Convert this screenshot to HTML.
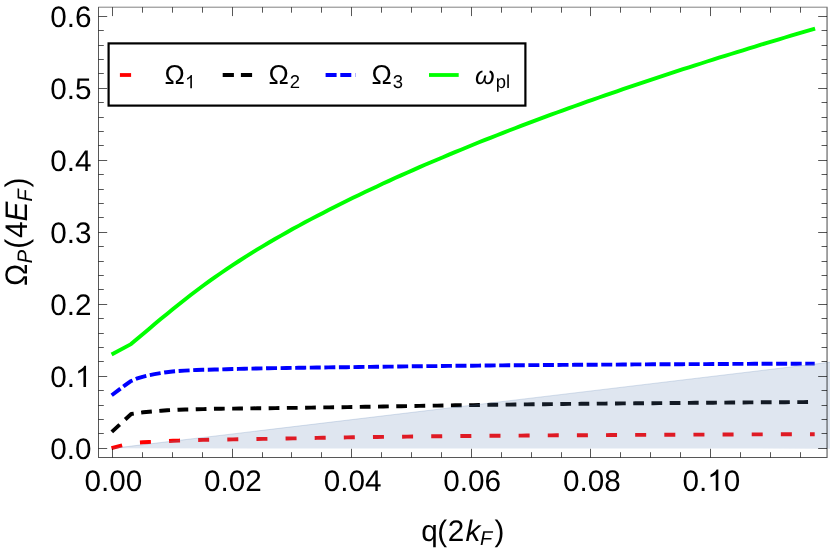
<!DOCTYPE html>
<html><head><meta charset="utf-8"><title>plot</title>
<style>
html,body{margin:0;padding:0;background:#fff;}
body{width:830px;height:549px;overflow:hidden;}
svg{display:block;will-change:transform;}
text{text-rendering:geometricPrecision;font-family:"Liberation Sans",sans-serif;fill:#000;}
.i{font-style:italic;}
</style></head><body>
<svg width="830" height="549" viewBox="0 0 830 549">
<rect x="0" y="0" width="830" height="549" fill="#ffffff"/>

<g fill="none" stroke-width="3.9" stroke-linejoin="round">
<path d="M111.5 448.2 L131.0 443.0 L137.0 442.7 L143.0 442.3 L149.0 442.0 L155.0 441.7 L161.0 441.4 L167.0 441.1 L173.0 440.8 L179.0 440.6 L185.0 440.4 L191.0 440.2 L197.0 440.0 L203.0 439.9 L209.0 439.8 L215.0 439.7 L221.0 439.6 L227.0 439.5 L233.0 439.4 L239.0 439.3 L245.0 439.2 L251.0 439.1 L257.0 439.0 L263.0 438.9 L269.0 438.8 L275.0 438.7 L281.0 438.6 L287.0 438.5 L293.0 438.4 L299.0 438.3 L305.0 438.2 L311.0 438.0 L317.0 437.9 L323.0 437.8 L329.0 437.7 L335.0 437.6 L341.0 437.5 L347.0 437.4 L353.0 437.3 L359.0 437.2 L365.0 437.1 L371.0 437.1 L377.0 437.0 L383.0 436.9 L389.0 436.8 L395.0 436.7 L401.0 436.7 L407.0 436.6 L413.0 436.5 L419.0 436.5 L425.0 436.4 L431.0 436.3 L437.0 436.3 L443.0 436.2 L449.0 436.1 L455.0 436.1 L461.0 436.0 L467.0 436.0 L473.0 435.9 L479.0 435.9 L485.0 435.8 L491.0 435.8 L497.0 435.7 L503.0 435.7 L509.0 435.6 L515.0 435.6 L521.0 435.6 L527.0 435.5 L533.0 435.5 L539.0 435.4 L545.0 435.4 L551.0 435.4 L557.0 435.3 L563.0 435.3 L569.0 435.3 L575.0 435.2 L581.0 435.2 L587.0 435.2 L593.0 435.1 L599.0 435.1 L605.0 435.1 L611.0 435.0 L617.0 435.0 L623.0 435.0 L629.0 434.9 L635.0 434.9 L641.0 434.9 L647.0 434.9 L653.0 434.8 L659.0 434.8 L665.0 434.8 L671.0 434.7 L677.0 434.7 L683.0 434.7 L689.0 434.7 L695.0 434.6 L701.0 434.6 L707.0 434.6 L713.0 434.6 L719.0 434.5 L725.0 434.5 L731.0 434.5 L737.0 434.5 L743.0 434.4 L749.0 434.4 L755.0 434.4 L761.0 434.4 L767.0 434.4 L773.0 434.3 L779.0 434.3 L785.0 434.3 L791.0 434.3 L797.0 434.3 L803.0 434.2 L809.0 434.2 L814.7 434.2" stroke="#ff0000" stroke-dasharray="11 18.137"/>
<path d="M111.8 431.9 L131.2 414.0 L137.2 413.1 L143.2 412.3 L149.2 411.7 L155.2 411.1 L161.2 410.7 L167.2 410.3 L173.2 410.0 L179.2 409.7 L185.2 409.5 L191.2 409.4 L197.2 409.2 L203.2 409.1 L209.2 408.9 L215.2 408.8 L221.2 408.7 L227.2 408.6 L233.2 408.6 L239.2 408.5 L245.2 408.5 L251.2 408.4 L257.2 408.3 L263.2 408.3 L269.2 408.2 L275.2 408.1 L281.2 408.0 L287.2 407.9 L293.2 407.9 L299.2 407.8 L305.2 407.7 L311.2 407.6 L317.2 407.5 L323.2 407.4 L329.2 407.4 L335.2 407.3 L341.2 407.2 L347.2 407.1 L353.2 407.0 L359.2 406.9 L365.2 406.8 L371.2 406.7 L377.2 406.6 L383.2 406.5 L389.2 406.4 L395.2 406.3 L401.2 406.2 L407.2 406.1 L413.2 406.0 L419.2 405.9 L425.2 405.8 L431.2 405.7 L437.2 405.6 L443.2 405.5 L449.2 405.4 L455.2 405.3 L461.2 405.2 L467.2 405.2 L473.2 405.1 L479.2 405.0 L485.2 404.9 L491.2 404.8 L497.2 404.7 L503.2 404.7 L509.2 404.6 L515.2 404.5 L521.2 404.4 L527.2 404.4 L533.2 404.3 L539.2 404.2 L545.2 404.2 L551.2 404.1 L557.2 404.1 L563.2 404.0 L569.2 403.9 L575.2 403.9 L581.2 403.8 L587.2 403.8 L593.2 403.7 L599.2 403.6 L605.2 403.6 L611.2 403.5 L617.2 403.5 L623.2 403.4 L629.2 403.4 L635.2 403.3 L641.2 403.3 L647.2 403.2 L653.2 403.2 L659.2 403.1 L665.2 403.1 L671.2 403.0 L677.2 403.0 L683.2 402.9 L689.2 402.9 L695.2 402.8 L701.2 402.8 L707.2 402.7 L713.2 402.7 L719.2 402.6 L725.2 402.6 L731.2 402.5 L737.2 402.5 L743.2 402.5 L749.2 402.4 L755.2 402.4 L761.2 402.3 L767.2 402.3 L773.2 402.3 L779.2 402.2 L785.2 402.2 L791.2 402.1 L797.2 402.1 L803.2 402.1 L809.2 402.0 L814.7 402.0" stroke="#000000" stroke-dasharray="10.75 7.481"/>
<path d="M111.7 395.2 L118.5 390.1 L124.5 385.6 L130.5 381.3 L136.5 378.7 L142.5 376.8 L148.5 375.3 L154.5 374.1 L160.5 373.1 L166.5 372.2 L172.5 371.5 L178.5 371.0 L184.5 370.6 L190.5 370.3 L196.5 370.0 L202.5 369.8 L208.5 369.7 L214.5 369.5 L220.5 369.4 L226.5 369.2 L232.5 369.0 L238.5 368.9 L244.5 368.7 L250.5 368.6 L256.5 368.5 L262.5 368.4 L268.5 368.2 L274.5 368.1 L280.5 368.1 L286.5 368.0 L292.5 367.9 L298.5 367.8 L304.5 367.7 L310.5 367.6 L316.5 367.5 L322.5 367.5 L328.5 367.4 L334.5 367.3 L340.5 367.2 L346.5 367.2 L352.5 367.1 L358.5 367.0 L364.5 366.9 L370.5 366.9 L376.5 366.8 L382.5 366.7 L388.5 366.6 L394.5 366.6 L400.5 366.5 L406.5 366.4 L412.5 366.3 L418.5 366.3 L424.5 366.2 L430.5 366.1 L436.5 366.1 L442.5 366.0 L448.5 365.9 L454.5 365.8 L460.5 365.8 L466.5 365.7 L472.5 365.7 L478.5 365.6 L484.5 365.5 L490.5 365.5 L496.5 365.4 L502.5 365.4 L508.5 365.3 L514.5 365.3 L520.5 365.2 L526.5 365.2 L532.5 365.1 L538.5 365.1 L544.5 365.0 L550.5 365.0 L556.5 365.0 L562.5 364.9 L568.5 364.9 L574.5 364.8 L580.5 364.8 L586.5 364.7 L592.5 364.7 L598.5 364.7 L604.5 364.6 L610.5 364.6 L616.5 364.6 L622.5 364.5 L628.5 364.5 L634.5 364.4 L640.5 364.4 L646.5 364.4 L652.5 364.3 L658.5 364.3 L664.5 364.3 L670.5 364.2 L676.5 364.2 L682.5 364.2 L688.5 364.1 L694.5 364.1 L700.5 364.1 L706.5 364.1 L712.5 364.0 L718.5 364.0 L724.5 364.0 L730.5 363.9 L736.5 363.9 L742.5 363.9 L748.5 363.9 L754.5 363.8 L760.5 363.8 L766.5 363.8 L772.5 363.8 L778.5 363.7 L784.5 363.7 L790.5 363.7 L796.5 363.7 L802.5 363.6 L808.5 363.6 L814.7 363.6" stroke="#0000ff" stroke-dasharray="11 3.575"/>
<path d="M111.6 354.5 L131.0 344.1 L137.0 339.0 L143.0 334.0 L149.0 328.9 L155.0 323.8 L161.0 318.8 L167.0 313.9 L173.0 309.0 L179.0 304.2 L185.0 299.5 L191.0 294.8 L197.0 290.3 L203.0 285.8 L209.0 281.4 L215.0 277.2 L221.0 273.0 L227.0 268.9 L233.0 264.9 L239.0 261.0 L245.0 257.1 L251.0 253.4 L257.0 249.7 L263.0 246.1 L269.0 242.5 L275.0 239.0 L281.0 235.6 L287.0 232.2 L293.0 228.8 L299.0 225.6 L305.0 222.3 L311.0 219.1 L317.0 216.0 L323.0 212.9 L329.0 209.8 L335.0 206.7 L341.0 203.7 L347.0 200.8 L353.0 197.8 L359.0 194.9 L365.0 192.1 L371.0 189.2 L377.0 186.4 L383.0 183.6 L389.0 180.9 L395.0 178.1 L401.0 175.4 L407.0 172.7 L413.0 170.1 L419.0 167.4 L425.0 164.8 L431.0 162.3 L437.0 159.7 L443.0 157.2 L449.0 154.6 L455.0 152.1 L461.0 149.7 L467.0 147.2 L473.0 144.8 L479.0 142.3 L485.0 139.9 L491.0 137.6 L497.0 135.2 L503.0 132.9 L509.0 130.5 L515.0 128.2 L521.0 125.9 L527.0 123.7 L533.0 121.4 L539.0 119.2 L545.0 116.9 L551.0 114.7 L557.0 112.5 L563.0 110.3 L569.0 108.2 L575.0 106.0 L581.0 103.9 L587.0 101.7 L593.0 99.6 L599.0 97.5 L605.0 95.4 L611.0 93.3 L617.0 91.3 L623.0 89.2 L629.0 87.2 L635.0 85.1 L641.0 83.1 L647.0 81.1 L653.0 79.1 L659.0 77.1 L665.0 75.1 L671.0 73.2 L677.0 71.2 L683.0 69.2 L689.0 67.3 L695.0 65.4 L701.0 63.5 L707.0 61.5 L713.0 59.6 L719.0 57.7 L725.0 55.9 L731.0 54.0 L737.0 52.1 L743.0 50.3 L749.0 48.4 L755.0 46.6 L761.0 44.7 L767.0 42.9 L773.0 41.1 L779.0 39.3 L785.0 37.5 L791.0 35.7 L797.0 33.9 L803.0 32.2 L809.0 30.4 L815.1 28.6" stroke="#00ff00"/>
</g>
<path d="M112.5 448.35 L830 362.25 L830 448.65 Z" fill="rgb(94,129,181)" fill-opacity="0.2"/>
<path d="M112.5 448.35 L830 362.25" fill="none" stroke="rgb(94,129,181)" stroke-opacity="0.3" stroke-width="0.8"/>
<g stroke="#000" stroke-opacity="0.66" stroke-width="1" fill="none">
<path d="M98.50 6.82 V458.00"/>
<path d="M99.00 457.50 H827.60"/>
<path d="M99.00 7.19 H827.60" stroke-width="0.75"/>
<path d="M827.05 7.56 V457.00" stroke-width="1.1"/>
<path d="M112.50 457.50 v-8.70 M112.50 7.19 v8.90"/>
<path d="M142.50 457.50 v-5.30 M142.50 7.19 v5.50"/>
<path d="M172.50 457.50 v-5.30 M172.50 7.19 v5.50"/>
<path d="M202.50 457.50 v-5.30 M202.50 7.19 v5.50"/>
<path d="M232.50 457.50 v-8.70 M232.50 7.19 v8.90"/>
<path d="M262.50 457.50 v-5.30 M262.50 7.19 v5.50"/>
<path d="M291.50 457.50 v-5.30 M291.50 7.19 v5.50"/>
<path d="M321.50 457.50 v-5.30 M321.50 7.19 v5.50"/>
<path d="M351.50 457.50 v-8.70 M351.50 7.19 v8.90"/>
<path d="M381.50 457.50 v-5.30 M381.50 7.19 v5.50"/>
<path d="M411.50 457.50 v-5.30 M411.50 7.19 v5.50"/>
<path d="M441.50 457.50 v-5.30 M441.50 7.19 v5.50"/>
<path d="M471.50 457.50 v-8.70 M471.50 7.19 v8.90"/>
<path d="M501.50 457.50 v-5.30 M501.50 7.19 v5.50"/>
<path d="M531.50 457.50 v-5.30 M531.50 7.19 v5.50"/>
<path d="M561.50 457.50 v-5.30 M561.50 7.19 v5.50"/>
<path d="M590.50 457.50 v-8.70 M590.50 7.19 v8.90"/>
<path d="M620.50 457.50 v-5.30 M620.50 7.19 v5.50"/>
<path d="M650.50 457.50 v-5.30 M650.50 7.19 v5.50"/>
<path d="M680.50 457.50 v-5.30 M680.50 7.19 v5.50"/>
<path d="M710.50 457.50 v-8.70 M710.50 7.19 v8.90"/>
<path d="M740.50 457.50 v-5.30 M740.50 7.19 v5.50"/>
<path d="M770.50 457.50 v-5.30 M770.50 7.19 v5.50"/>
<path d="M800.50 457.50 v-5.30 M800.50 7.19 v5.50"/>
<path d="M98.50 448.50 h8.70 M827.05 448.50 h-8.90"/>
<path d="M98.50 433.50 h5.30 M827.05 433.50 h-5.50"/>
<path d="M98.50 419.50 h5.30 M827.05 419.50 h-5.50"/>
<path d="M98.50 405.50 h5.30 M827.05 405.50 h-5.50"/>
<path d="M98.50 390.50 h5.30 M827.05 390.50 h-5.50"/>
<path d="M98.50 376.50 h8.70 M827.05 376.50 h-8.90"/>
<path d="M98.50 361.50 h5.30 M827.05 361.50 h-5.50"/>
<path d="M98.50 347.50 h5.30 M827.05 347.50 h-5.50"/>
<path d="M98.50 333.50 h5.30 M827.05 333.50 h-5.50"/>
<path d="M98.50 318.50 h5.30 M827.05 318.50 h-5.50"/>
<path d="M98.50 304.50 h8.70 M827.05 304.50 h-8.90"/>
<path d="M98.50 289.50 h5.30 M827.05 289.50 h-5.50"/>
<path d="M98.50 275.50 h5.30 M827.05 275.50 h-5.50"/>
<path d="M98.50 261.50 h5.30 M827.05 261.50 h-5.50"/>
<path d="M98.50 246.50 h5.30 M827.05 246.50 h-5.50"/>
<path d="M98.50 232.50 h8.70 M827.05 232.50 h-8.90"/>
<path d="M98.50 217.50 h5.30 M827.05 217.50 h-5.50"/>
<path d="M98.50 203.50 h5.30 M827.05 203.50 h-5.50"/>
<path d="M98.50 189.50 h5.30 M827.05 189.50 h-5.50"/>
<path d="M98.50 174.50 h5.30 M827.05 174.50 h-5.50"/>
<path d="M98.50 160.50 h8.70 M827.05 160.50 h-8.90"/>
<path d="M98.50 145.50 h5.30 M827.05 145.50 h-5.50"/>
<path d="M98.50 131.50 h5.30 M827.05 131.50 h-5.50"/>
<path d="M98.50 117.50 h5.30 M827.05 117.50 h-5.50"/>
<path d="M98.50 102.50 h5.30 M827.05 102.50 h-5.50"/>
<path d="M98.50 88.50 h8.70 M827.05 88.50 h-8.90"/>
<path d="M98.50 73.50 h5.30 M827.05 73.50 h-5.50"/>
<path d="M98.50 59.50 h5.30 M827.05 59.50 h-5.50"/>
<path d="M98.50 45.50 h5.30 M827.05 45.50 h-5.50"/>
<path d="M98.50 30.50 h5.30 M827.05 30.50 h-5.50"/>
<path d="M98.50 16.50 h8.70 M827.05 16.50 h-8.90"/>
</g>
<text x="91.5" y="458.95" font-size="29.7" text-anchor="end">0.0</text>
<text x="74.98" y="386.95" font-size="29.7" text-anchor="end">0.</text>
<path d="M763 0H583V1147Q518 1085 412 1023Q307 961 223 930V1104Q373 1175 486 1275Q599 1375 646 1469H763Z" fill="#000" transform="translate(74.98,386.95) scale(0.01450,-0.01450)"/>
<text x="91.5" y="314.95" font-size="29.7" text-anchor="end">0.2</text>
<text x="91.5" y="242.95" font-size="29.7" text-anchor="end">0.3</text>
<text x="91.5" y="170.95" font-size="29.7" text-anchor="end">0.4</text>
<text x="91.5" y="98.95" font-size="29.7" text-anchor="end">0.5</text>
<text x="91.5" y="26.95" font-size="29.7" text-anchor="end">0.6</text>
<text x="113.30" y="490.8" font-size="29.7" text-anchor="middle">0.00</text>
<text x="232.92" y="490.8" font-size="29.7" text-anchor="middle">0.02</text>
<text x="352.54" y="490.8" font-size="29.7" text-anchor="middle">0.04</text>
<text x="472.16" y="490.8" font-size="29.7" text-anchor="middle">0.06</text>
<text x="591.78" y="490.8" font-size="29.7" text-anchor="middle">0.08</text>
<text x="682.49" y="490.8" font-size="29.7">0.</text>
<path d="M763 0H583V1147Q518 1085 412 1023Q307 961 223 930V1104Q373 1175 486 1275Q599 1375 646 1469H763Z" fill="#000" transform="translate(707.27,490.80) scale(0.01450,-0.01450)"/>
<text x="723.79" y="490.8" font-size="29.7">0</text>
<text y="541.4" font-size="29.7"><tspan x="421.25">q</tspan><tspan x="437.3">(</tspan><tspan x="447.7">2</tspan><tspan x="465.6" class="i">k</tspan><tspan x="480.1" class="i" font-size="20.0" dy="4.0">F</tspan><tspan x="494.5" dy="-4.0">)</tspan></text>
<text transform="translate(27.0,286.06) rotate(-90) scale(1,1.05)" font-size="29.7"><tspan x="0">Ω</tspan><tspan x="22.86" class="i" font-size="20.0" dy="4.3">P</tspan><tspan x="37.36" dy="-4.3">(</tspan><tspan x="47.96">4</tspan><tspan x="64.66" class="i">E</tspan><tspan x="84.46" class="i" font-size="20.0" dy="4.3">F</tspan><tspan x="98.6" dy="-4.3">)</tspan></text>
<rect x="108.6" y="43.4" width="416.8" height="62.2" fill="#ffffff" stroke="#000" stroke-width="2.2"/>
<g fill="none" stroke-width="3.8">
<path d="M119.9 75 h29.7" stroke="#ff0000" stroke-dasharray="11.2 30"/>
<path d="M222.7 75 h29.7" stroke="#000" stroke-dasharray="11.2 7.0"/>
<path d="M325.6 75 h29.7" stroke="#0000ff" stroke-dasharray="11 3.7"/>
<path d="M429.0 75 h29.7" stroke="#00ff00"/>
</g>
<text x="164.40" y="84.0" font-size="27.20">Ω</text>
<path d="M763 0H583V1147Q518 1085 412 1023Q307 961 223 930V1104Q373 1175 486 1275Q599 1375 646 1469H763Z" fill="#000" transform="translate(185.03,88.20) scale(0.00903,-0.00903)"/>
<text x="268.50" y="84.0" font-size="27.20">Ω</text><text x="289.83" y="88.2" font-size="18.5">2</text>
<text x="371.40" y="84.0" font-size="27.20">Ω</text><text x="392.73" y="88.2" font-size="18.5">3</text>
<text x="474.90" y="84.0" font-size="25.20" class="i">ω</text><text x="495.63" y="88.2" font-size="18.5">pl</text>
</svg></body></html>
